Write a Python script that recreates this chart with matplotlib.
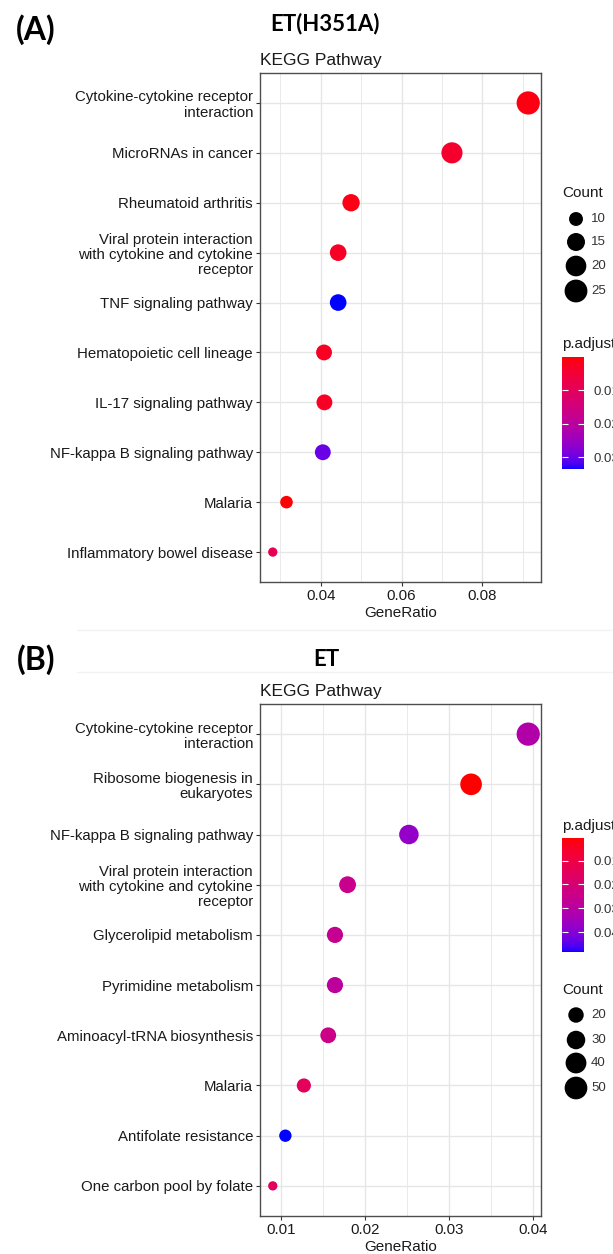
import numpy as np
import matplotlib
matplotlib.use("Agg")
import matplotlib.pyplot as plt
from matplotlib.colors import ListedColormap, Normalize
from matplotlib.cm import ScalarMappable

W, H = 613, 1254

# ---- panel A: ET(H351A) ----
a_terms = ["Cytokine-cytokine receptor\ninteraction", "MicroRNAs in cancer",
           "Rheumatoid arthritis",
           "Viral protein interaction\nwith cytokine and cytokine\nreceptor",
           "TNF signaling pathway", "Hematopoietic cell lineage",
           "IL-17 signaling pathway", "NF-kappa B signaling pathway",
           "Malaria", "Inflammatory bowel disease"]
a_ratio = [0.0914, 0.0725, 0.0475, 0.0443, 0.0443, 0.0408, 0.0409, 0.0405, 0.0315, 0.0281]
a_count = [26, 21, 14, 13, 13, 12, 12, 12, 9, 8]
a_padj = [0.0012, 0.0038, 0.0015, 0.0030, 0.0335, 0.0028, 0.0030, 0.0300, 0.0001, 0.0090]
a_xticks = [0.04, 0.06, 0.08]
a_size_breaks = [10, 15, 20, 25]
a_col_breaks = [0.01, 0.02, 0.03]

# ---- panel B: ET ----
b_terms = ["Cytokine-cytokine receptor\ninteraction", "Ribosome biogenesis in\neukaryotes",
           "NF-kappa B signaling pathway",
           "Viral protein interaction\nwith cytokine and cytokine\nreceptor",
           "Glycerolipid metabolism", "Pyrimidine metabolism",
           "Aminoacyl-tRNA biosynthesis", "Malaria", "Antifolate resistance",
           "One carbon pool by folate"]
b_ratio = [0.0394, 0.0326, 0.0252, 0.0179, 0.0164, 0.0164, 0.0156, 0.0127, 0.0105, 0.0090]
b_count = [53, 44, 34, 24, 22, 22, 21, 17, 14, 12]
b_padj = [0.0310, 0.0005, 0.0375, 0.0250, 0.0260, 0.0285, 0.0240, 0.0150, 0.0484, 0.0150]
b_xticks = [0.01, 0.02, 0.03, 0.04]
b_size_breaks = [20, 30, 40, 50]
b_col_breaks = [0.01, 0.02, 0.03, 0.04]


# red -> blue gradient interpolated in Lab, like ggplot's scale_color_gradient
M = np.array([[0.4124, 0.3576, 0.1805], [0.2126, 0.7152, 0.0722], [0.0193, 0.1192, 0.9505]])
WHITE = np.array([0.95047, 1.0, 1.08883])


def to_lab(rgb):
    rgb = np.asarray(rgb, float)
    lin = np.where(rgb <= 0.04045, rgb / 12.92, ((rgb + 0.055) / 1.055) ** 2.4)
    xyz = M @ lin / WHITE
    f = np.where(xyz > 216 / 24389, np.cbrt(xyz), (24389 / 27 * xyz + 16) / 116)
    return np.array([116 * f[1] - 16, 500 * (f[0] - f[1]), 200 * (f[1] - f[2])])


def from_lab(lab):
    L, a, b = lab
    fy = (L + 16) / 116
    f = np.array([fy + a / 500, fy, fy - b / 200])
    xyz = np.where(f ** 3 > 216 / 24389, f ** 3, (116 * f - 16) / (24389 / 27)) * WHITE
    lin = np.clip(np.linalg.solve(M, xyz), 0, 1)
    return np.where(lin <= 0.0031308, 12.92 * lin, 1.055 * lin ** (1 / 2.4) - 0.055)


lab_r, lab_b = to_lab([1, 0, 0]), to_lab([0, 0, 1])
cmap = ListedColormap([np.clip(from_lab(lab_r + t * (lab_b - lab_r)), 0, 1)
                       for t in np.linspace(0, 1, 256)])


def dot_area(c, cmin, cmax):
    c = np.asarray(c, float)
    size = 3 + 5 * np.sqrt((c - cmin) / (cmax - cmin))
    d_px = 0.98 * (2.845 * size + 0.945)
    return (d_px * 0.72) ** 2


def box(l, t, r, b):
    return [l / W, 1 - b / H, (r - l) / W, (b - t) / H]


plt.rcParams["font.family"] = ["Liberation Sans", "DejaVu Sans"]
fig = plt.figure(figsize=(W / 100, H / 100), dpi=100)
ov = fig.add_axes([0, 0, 1, 1], zorder=-1)
ov.set_xlim(0, W)
ov.set_ylim(H, 0)
ov.axis("off")


def panel(ax, terms, ratio, count, padj, xticks):
    n = len(terms)
    y = np.arange(n)[::-1]
    norm = Normalize(min(padj), max(padj))
    cmin, cmax = min(count), max(count)
    ax.scatter(ratio, y, s=dot_area(count, cmin, cmax), c=padj, cmap=cmap, norm=norm,
               edgecolors="none", zorder=3)
    lo, hi = min(ratio), max(ratio)
    pad = 0.05 * (hi - lo)
    ax.set_xlim(lo - pad, hi + pad)
    ax.set_ylim(-0.6, n - 0.4)
    ax.set_yticks(y)
    ax.set_yticklabels(terms, fontsize=10.8, color="#1a1a1a", linespacing=1.1)
    ax.set_xticks(xticks)
    ax.set_xticklabels([f"{v:g}" for v in xticks], fontsize=10.8, color="#1a1a1a")
    step = xticks[1] - xticks[0]
    minors = np.arange(xticks[0] - step / 2, hi + pad, step)
    ax.set_xticks(minors[minors > lo - pad], minor=True)
    ax.grid(True, which="major", color="#E6E6E6", lw=1.0, zorder=0)
    ax.grid(True, which="minor", axis="x", color="#E6E6E6", lw=0.6, zorder=0)
    ax.set_axisbelow(True)
    ax.tick_params(which="major", length=3, width=0.8, color="#333333", pad=2)
    ax.tick_params(which="minor", length=0)
    for sp in ax.spines.values():
        sp.set_color("#4d4d4d")
        sp.set_linewidth(1.0)
    ax.set_xlabel("GeneRatio", fontsize=11, color="#1a1a1a", labelpad=2)
    ax.set_title("KEGG Pathway", loc="left", fontsize=12.5, color="#1a1a1a", pad=6)
    return norm, cmin, cmax


def colorbar(norm, breaks, top, bottom):
    cax = fig.add_axes(box(562, top, 584, bottom))
    cb = fig.colorbar(ScalarMappable(norm=norm, cmap=cmap), cax=cax, ticks=breaks)
    cb.outline.set_visible(False)
    cax.invert_yaxis()
    cax.tick_params(direction="in", color="white", length=4, width=0.8,
                    left=True, right=True, labelsize=9.5, labelcolor="#333333", pad=7)
    cb.set_ticklabels([f"{v:g}" for v in breaks])


def size_legend(breaks, cmin, cmax, title_y, rows_y):
    ov.text(562, title_y, "Count", fontsize=11, va="center", ha="left", color="#1a1a1a")
    ov.scatter([576] * len(breaks), rows_y, s=dot_area(breaks, cmin, cmax), color="black",
               edgecolors="none")
    for b, yy in zip(breaks, rows_y):
        ov.text(591, yy, str(b), fontsize=9.5, va="center", ha="left", color="#333333")


axA = fig.add_axes(box(260, 73, 541, 582))
normA, cminA, cmaxA = panel(axA, a_terms, a_ratio, a_count, a_padj, a_xticks)
size_legend(a_size_breaks, cminA, cmaxA, 193, [219, 242, 266, 291])
ov.text(562, 344, "p.adjust", fontsize=11, va="center", ha="left", color="#1a1a1a")
colorbar(normA, a_col_breaks, 357, 469)

axB = fig.add_axes(box(260, 704, 541, 1216))
normB, cminB, cmaxB = panel(axB, b_terms, b_ratio, b_count, b_padj, b_xticks)
ov.text(562, 826, "p.adjust", fontsize=11, va="center", ha="left", color="#1a1a1a")
colorbar(normB, b_col_breaks, 838, 952)
size_legend(b_size_breaks, cminB, cmaxB, 990, [1015, 1040, 1063, 1088])

# panel headings
head = dict(fontweight="bold", family=["Lato", "DejaVu Sans"], ha="center", va="center")
ov.text(36, 30, "(A)", fontsize=23, **head)
ov.text(325, 24, "ET(H351A)", fontsize=16, **head)
ov.text(36, 660, "(B)", fontsize=23, **head)
ov.text(326, 660, "ET", fontsize=16, **head)
ov.plot([77, W], [630, 630], color="#f2f2f2", lw=1)
ov.plot([77, W], [672, 672], color="#f2f2f2", lw=1)

fig.savefig("out.png", dpi=100)
